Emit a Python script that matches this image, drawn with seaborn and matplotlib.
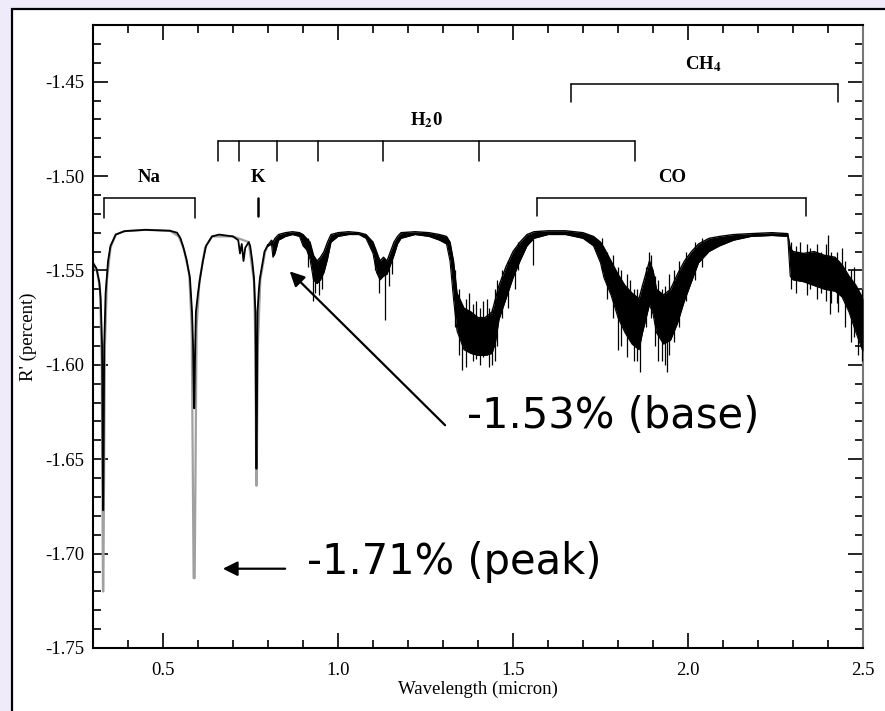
import numpy as np
import pandas as pd
import matplotlib
matplotlib.use("Agg")
import matplotlib.pyplot as plt
from matplotlib.patches import Rectangle
import seaborn as sns

# ---------------- data ----------------
# smooth part of the spectrum (black), 0.30 - 0.80 micron
line_wl = [0.300, 0.310, 0.318, 0.322, 0.326, 0.3285, 0.3295, 0.332, 0.336, 0.343,
           0.350, 0.365, 0.390, 0.450, 0.520, 0.540, 0.550, 0.557, 0.567, 0.577,
           0.583, 0.586, 0.5885, 0.5895, 0.592, 0.594, 0.600, 0.606, 0.614, 0.623,
           0.640, 0.660, 0.700, 0.715, 0.720, 0.725, 0.730, 0.735, 0.745, 0.749,
           0.755, 0.760, 0.764, 0.7665, 0.7675, 0.770, 0.774, 0.777, 0.790, 0.800]
line_r = [-1.546, -1.549, -1.556, -1.565, -1.590, -1.677, -1.677, -1.590, -1.562, -1.545,
          -1.537, -1.531, -1.5292, -1.5285, -1.529, -1.530, -1.533, -1.537, -1.544, -1.554,
          -1.572, -1.590, -1.623, -1.623, -1.590, -1.572, -1.562, -1.554, -1.545, -1.537,
          -1.532, -1.531, -1.532, -1.534, -1.541, -1.536, -1.545, -1.538, -1.535, -1.537,
          -1.545, -1.554, -1.572, -1.655, -1.655, -1.572, -1.560, -1.554, -1.540, -1.5365]

# grey (lower resolution) spectrum, visible around and below the black line cores
grey_wl = [0.300, 0.312, 0.320, 0.325, 0.3285, 0.3295, 0.334, 0.340, 0.350, 0.365,
           0.390, 0.450, 0.520, 0.545, 0.560, 0.575, 0.582, 0.5875, 0.5905, 0.596,
           0.604, 0.620, 0.640, 0.700, 0.745, 0.752, 0.760, 0.764, 0.7665, 0.7675,
           0.771, 0.778, 0.792, 0.800]
grey_r = [-1.546, -1.551, -1.560, -1.600, -1.720, -1.720, -1.590, -1.555, -1.538, -1.531,
          -1.5292, -1.5285, -1.529, -1.532, -1.539, -1.552, -1.580, -1.713, -1.713, -1.580,
          -1.556, -1.538, -1.532, -1.532, -1.535, -1.545, -1.556, -1.590, -1.664, -1.664,
          -1.590, -1.555, -1.540, -1.5365]

# noisy part of the spectrum: upper / lower envelope, 0.80 - 2.50 micron
band_wl = [0.800, 0.810, 0.814, 0.820, 0.830, 0.850, 0.870, 0.890, 0.900, 0.910,
           0.920, 0.930, 0.940, 0.950, 0.960, 0.970, 0.980, 1.000, 1.030, 1.060,
           1.080, 1.100, 1.110, 1.120, 1.130, 1.140, 1.150, 1.160, 1.170, 1.180,
           1.220, 1.260, 1.290, 1.310, 1.320, 1.330, 1.340, 1.360, 1.380, 1.400,
           1.420, 1.440, 1.450, 1.460, 1.480, 1.500, 1.520, 1.540, 1.560, 1.600,
           1.650, 1.700, 1.730, 1.750, 1.760, 1.780, 1.800, 1.820, 1.840, 1.860,
           1.870, 1.890, 1.900, 1.910, 1.930, 1.950, 1.970, 1.990, 2.010, 2.030,
           2.060, 2.090, 2.130, 2.180, 2.240, 2.285, 2.292, 2.300, 2.330, 2.360,
           2.390, 2.420, 2.440, 2.460, 2.480, 2.500]
band_hi = [-1.5365, -1.534, -1.535, -1.533, -1.531, -1.530, -1.5295, -1.530, -1.531, -1.533,
           -1.535, -1.542, -1.545, -1.543, -1.540, -1.535, -1.531, -1.530, -1.5295, -1.530,
           -1.531, -1.535, -1.540, -1.545, -1.543, -1.545, -1.540, -1.535, -1.532, -1.530,
           -1.5295, -1.530, -1.531, -1.532, -1.535, -1.545, -1.562, -1.570, -1.572, -1.575,
           -1.575, -1.572, -1.565, -1.558, -1.548, -1.540, -1.535, -1.531, -1.5295, -1.529,
           -1.529, -1.530, -1.532, -1.535, -1.538, -1.545, -1.552, -1.558, -1.562, -1.565,
           -1.558, -1.545, -1.550, -1.560, -1.563, -1.560, -1.552, -1.545, -1.540, -1.536,
           -1.533, -1.532, -1.531, -1.5305, -1.530, -1.5305, -1.538, -1.540, -1.541, -1.540,
           -1.542, -1.543, -1.547, -1.553, -1.558, -1.565]
band_lo = [-1.5372, -1.536, -1.543, -1.541, -1.534, -1.532, -1.531, -1.532, -1.537, -1.539,
           -1.544, -1.555, -1.557, -1.555, -1.551, -1.544, -1.535, -1.532, -1.531, -1.531,
           -1.533, -1.541, -1.551, -1.555, -1.553, -1.552, -1.547, -1.542, -1.536, -1.533,
           -1.531, -1.532, -1.534, -1.536, -1.545, -1.565, -1.582, -1.592, -1.594, -1.595,
           -1.595, -1.594, -1.588, -1.576, -1.565, -1.554, -1.545, -1.537, -1.533, -1.531,
           -1.531, -1.533, -1.537, -1.546, -1.554, -1.563, -1.575, -1.583, -1.589, -1.592,
           -1.583, -1.568, -1.573, -1.583, -1.589, -1.587, -1.578, -1.566, -1.556, -1.546,
           -1.540, -1.537, -1.534, -1.532, -1.5315, -1.532, -1.553, -1.555, -1.556, -1.558,
           -1.560, -1.561, -1.564, -1.572, -1.583, -1.593]

# individual noise spikes: wavelength, top, bottom
spike_wl = [0.9286, 1.134, 1.354, 1.440, 1.557, 1.863, 1.940, 2.406,
            0.915, 0.935, 0.945, 0.955, 1.105, 1.118, 1.145, 1.155,
            1.335, 1.345, 1.365, 1.375, 1.385, 1.395, 1.405, 1.415, 1.425, 1.432,
            1.448, 1.455, 1.470, 1.485, 1.505, 1.515,
            1.755, 1.770, 1.785, 1.800, 1.810, 1.825, 1.835, 1.845, 1.855, 1.880,
            1.890, 1.895, 1.905, 1.915, 1.925, 1.935, 1.945, 1.960, 1.975, 1.995,
            2.020, 2.040,
            2.295, 2.310, 2.320, 2.340, 2.350, 2.370, 2.380, 2.395, 2.400, 2.410,
            2.425, 2.430, 2.440, 2.450, 2.465, 2.475, 2.485, 2.497]
spike_top = [-1.545, -1.548, -1.570, -1.570, -1.531, -1.565, -1.565, -1.545,
             -1.533, -1.545, -1.548, -1.545, -1.538, -1.545, -1.545, -1.540,
             -1.550, -1.560, -1.565, -1.562, -1.568, -1.566, -1.570, -1.566, -1.565, -1.570,
             -1.560, -1.555, -1.550, -1.545, -1.538, -1.535,
             -1.533, -1.540, -1.542, -1.548, -1.550, -1.552, -1.555, -1.560, -1.560, -1.548,
             -1.540, -1.542, -1.553, -1.555, -1.560, -1.558, -1.552, -1.550, -1.545, -1.540,
             -1.535, -1.533,
             -1.535, -1.537, -1.535, -1.536, -1.538, -1.536, -1.540, -1.536, -1.531, -1.540,
             -1.540, -1.545, -1.538, -1.545, -1.550, -1.548, -1.560, -1.560]
spike_bot = [-1.566, -1.5765, -1.603, -1.600, -1.547, -1.604, -1.604, -1.573,
             -1.548, -1.562, -1.563, -1.560, -1.550, -1.562, -1.558, -1.552,
             -1.580, -1.595, -1.601, -1.590, -1.598, -1.597, -1.600, -1.596, -1.595, -1.601,
             -1.598, -1.590, -1.575, -1.570, -1.560, -1.550,
             -1.550, -1.565, -1.575, -1.592, -1.590, -1.596, -1.585, -1.598, -1.598, -1.580,
             -1.560, -1.575, -1.590, -1.598, -1.598, -1.600, -1.595, -1.588, -1.580, -1.566,
             -1.555, -1.548,
             -1.560, -1.562, -1.550, -1.563, -1.560, -1.565, -1.562, -1.566, -1.550, -1.567,
             -1.567, -1.572, -1.555, -1.580, -1.588, -1.585, -1.595, -1.598]

# molecular band brackets
na_span = [0.331, 0.591]
k_pos = [0.771]
h2o_ticks = [0.657, 0.717, 0.826, 0.943, 1.129, 1.403, 1.849]
ch4_span = [1.666, 2.429]
co_span = [1.569, 2.337]

x_ticks = [0.5, 1.0, 1.5, 2.0, 2.5]
x_ticklabels = ["0.5", "1.0", "1.5", "2.0", "2.5"]
y_ticks = [-1.75, -1.70, -1.65, -1.60, -1.55, -1.50, -1.45]
y_ticklabels = ["-1.75", "-1.70", "-1.65", "-1.60", "-1.55", "-1.50", "-1.45"]

base_label = "-1.53% (base)"
peak_label = "-1.71% (peak)"

# ---------------- figure ----------------
sns.set_style("ticks")
plt.rcParams["font.family"] = ["Liberation Serif", "DejaVu Serif"]
plt.rcParams["mathtext.fontset"] = "stix"
plt.rcParams["text.color"] = "black"
plt.rcParams["axes.labelcolor"] = "black"

fig = plt.figure(figsize=(8.85, 7.11), dpi=100)
fig.patch.set_facecolor("#EFEBFA")
fig.patches.append(Rectangle((12 / 885, -0.05), 1.2, 0.05 + 1 - 9 / 711,
                             transform=fig.transFigure, facecolor="white",
                             edgecolor="black", linewidth=1.6, zorder=-10))
ax = fig.add_axes([93 / 885, 63 / 711, 770 / 885, 623 / 711])
ax.set_zorder(5)
ax.set_facecolor("white")

df_grey = pd.DataFrame({"wl": grey_wl, "r": grey_r})
df_line = pd.DataFrame({"wl": line_wl, "r": line_r})
sns.lineplot(data=df_grey, x="wl", y="r", ax=ax, color="#a0a0a0", lw=1.6,
             estimator=None, sort=False, zorder=2)
sns.lineplot(data=df_line, x="wl", y="r", ax=ax, color="black", lw=1.3,
             estimator=None, sort=False, zorder=3)

ax.fill_between(band_wl, band_lo, band_hi, color="black", lw=0, zorder=3)
ax.plot(band_wl, band_hi, color="black", lw=1.0, zorder=3)
ax.plot(band_wl, band_lo, color="black", lw=0.8, zorder=3)
ax.vlines(spike_wl, spike_bot, spike_top, color="black", lw=0.9, zorder=3)

# brackets
bk = dict(color="black", lw=1.1, zorder=4)
def bracket(x0, x1, y, drop, inner=()):
    ax.plot([x0, x1], [y, y], **bk)
    for xx in [x0, x1, *inner]:
        ax.plot([xx, xx], [y, y - drop], **bk)

bracket(na_span[0], na_span[1], -1.5114, 0.0106)
ax.plot([k_pos[0], k_pos[0]], [-1.5116, -1.5210], color="black", lw=1.8, zorder=4)
bracket(h2o_ticks[0], h2o_ticks[-1], -1.4812, 0.0106, inner=h2o_ticks[1:-1])
bracket(ch4_span[0], ch4_span[1], -1.4510, 0.0100)
bracket(co_span[0], co_span[1], -1.5114, 0.0100)

lab = dict(ha="center", va="center", fontsize=13.5, fontweight="bold", zorder=5)
ax.text(0.461, -1.5008, "Na", **lab)
ax.text(k_pos[0], -1.5008, "K", **lab)
ax.text(1.254, -1.4706, r"H$_{\mathbf{2}}$0", **lab)
ax.text(2.045, -1.4405, r"CH$_{\mathbf{4}}$", **lab)
ax.text(1.954, -1.5008, "CO", **lab)

# annotations
big = dict(fontsize=30, family=["DejaVu Sans"], ha="left", va="center",
           color="black", zorder=6)
ax.text(1.369, -1.627, base_label, **big)
ax.annotate("", xy=(0.862, -1.5505), xytext=(1.306, -1.632),
            arrowprops=dict(arrowstyle="-|>", mutation_scale=22, lw=1.6,
                            color="black", shrinkA=0, shrinkB=0), zorder=6)
ax.text(0.911, -1.7045, peak_label, **big)
ax.annotate("", xy=(0.671, -1.708), xytext=(0.849, -1.708),
            arrowprops=dict(arrowstyle="-|>", mutation_scale=22, lw=1.6,
                            color="black", shrinkA=0, shrinkB=0), zorder=6)

# axes
ax.set_xlim(0.3, 2.5)
ax.set_ylim(-1.75, -1.42)
ax.set_xticks(x_ticks)
ax.set_xticklabels(x_ticklabels)
ax.set_yticks(y_ticks)
ax.set_yticklabels(y_ticklabels)
ax.set_xticks(np.arange(0.3, 2.5001, 0.1), minor=True)
ax.set_yticks(np.arange(-1.75, -1.4199, 0.01), minor=True)
ax.tick_params(which="both", direction="in", top=True, right=True,
               labelsize=13.5, colors="black", width=1.2)
ax.tick_params(which="major", length=11, pad=6)
ax.tick_params(axis="x", which="major", pad=10)
ax.tick_params(which="minor", length=5.5)
for s in ax.spines.values():
    s.set_visible(True)
    s.set_color("black")
    s.set_linewidth(1.5)
ax.spines["right"].set_color("#777777")
ax.set_xlabel("Wavelength (micron)", fontsize=13.5, labelpad=1)
ax.set_ylabel("R' (percent)", fontsize=13.5, labelpad=6)

fig.savefig("out.png", dpi=100, facecolor=fig.get_facecolor())
